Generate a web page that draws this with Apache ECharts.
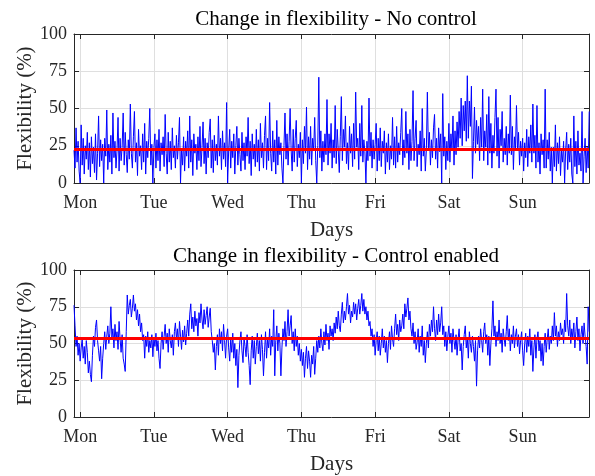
<!DOCTYPE html>
<html>
<head>
<meta charset="utf-8">
<script src="https://cdn.jsdelivr.net/npm/echarts@6/dist/echarts.min.js"></script>
<style>html,body{margin:0;padding:0;background:#fff}#c{width:595px;height:476px}</style>
</head>
<body>
<div id="c"></div>
<script>
// ---- data ----
const dayLabels = ['Mon','Tue','Wed','Thu','Fri','Sat','Sun'];
const dayTicks = [0,1,2,3,4,5,6];
const yTicks = [0,25,50,75,100];
const startDay = -1/12;      // first sample, in days relative to Monday 00:00
const stepDay = 1/72;        // 20-minute samples
const titleTop = 'Change in flexibility - No control';
const titleBottom = 'Change in flexibility - Control enabled';
const meanNoControl = 22.6;
const meanControl = 53.6;

const noControl = [
22,10,37,14,28,8,0,39,12,30,6,25,16,34,9,27,4,31,13,24,7,33,2,20,45,11,29,15,26,0,30,18,49,9,26,14,
32,6,47,17,28,10,22,44,8,30,15,24,47,12,34,19,7,29,16,53,20,10,31,48,14,27,5,36,18,25,9,33,14,40,6,28,
17,30,50,12,26,0,24,33,10,29,15,36,8,27,19,31,11,46,20,6,34,14,28,9,37,17,25,10,32,16,27,44,0,23,12,31,
8,28,18,35,10,45,14,29,5,33,20,26,9,31,15,38,11,24,41,13,30,6,27,17,34,43,10,29,7,32,15,26,12,45,18,30,
9,35,16,27,11,54,0,22,36,10,28,17,33,6,25,38,12,30,19,8,34,15,27,9,31,18,44,13,28,5,33,16,26,11,36,14,
29,8,40,17,27,10,32,45,9,30,15,54,20,8,35,14,29,6,42,12,31,19,27,10,0,25,47,16,33,12,28,50,22,8,36,14,
30,42,11,26,17,34,0,29,13,38,20,51,9,31,16,38,12,30,22,44,15,0,25,71,17,35,8,28,14,33,19,56,12,33,20,40,
10,29,17,52,13,36,22,7,31,58,15,36,24,45,13,27,9,38,20,33,11,40,16,61,24,30,9,40,18,52,14,29,21,0,28,15,
57,18,34,10,29,16,26,40,8,30,15,37,11,28,20,35,6,27,14,33,9,25,16,44,12,31,10,38,14,27,19,34,50,12,29,17,
48,20,33,9,36,15,28,62,15,30,42,11,26,19,35,8,50,18,30,8,22,61,22,34,12,29,17,37,46,16,30,10,37,21,33,0,
60,18,31,9,28,15,40,14,33,22,45,12,35,19,41,24,48,30,57,25,52,35,55,28,72,30,55,38,65,3,28,51,20,42,26,38,
15,44,24,63,15,35,24,46,12,58,20,40,10,32,20,44,63,18,44,10,36,25,48,14,30,19,38,12,33,20,59,19,38,9,31,22,
52,22,34,12,28,18,30,8,27,17,36,11,31,20,39,14,53,20,32,10,52,14,27,6,33,19,29,10,63,10,29,16,34,8,24,0,
24,11,39,8,27,13,31,5,22,14,28,0,22,34,9,26,14,30,6,0,45,11,28,6,35,12,20,8,48,0,18,30,7,24,10,48
];

const controlEnabled = [
76,62,48,55,42,50,38,47,53,40,48,36,52,44,30,38,29,24,42,55,48,61,66,52,45,38,48,26,40,50,58,46,55,62,50,57,
75,54,60,47,63,52,58,46,65,53,44,56,40,36,31,58,83,70,76,80,68,74,83,72,77,66,73,62,70,58,64,52,56,40,55,48,
58,44,52,47,56,41,54,48,57,45,52,40,33,50,58,46,55,63,50,57,44,60,52,47,56,42,58,64,53,60,48,65,55,46,59,51,
62,49,57,66,55,70,77,60,68,58,72,62,67,55,71,64,77,66,60,73,63,69,75,61,68,74,58,52,44,50,32,48,56,42,60,50,
58,45,63,52,40,55,60,47,38,53,44,57,40,50,35,46,20,42,52,58,45,37,54,48,41,56,44,35,22,45,55,40,52,36,48,57,
43,52,38,56,46,28,44,58,40,53,47,60,42,55,48,73,28,52,62,45,57,50,28,47,60,52,65,48,58,73,55,62,69,50,58,45,
60,48,55,42,50,38,46,35,44,27,40,48,33,45,38,27,42,36,48,29,40,52,44,55,47,60,50,45,58,49,63,52,57,46,62,55,
60,52,64,57,68,60,72,62,58,70,78,64,72,66,75,84,70,76,64,72,68,78,70,77,66,74,80,70,76,84,72,80,70,75,66,72,
62,65,55,60,48,56,42,52,58,45,55,42,50,60,47,55,44,52,37,50,58,46,62,53,48,60,70,56,63,52,66,58,62,70,60,77,
68,74,81,66,72,60,55,64,50,58,46,51,60,44,55,48,62,42,52,37,50,58,47,63,55,66,58,75,60,52,66,56,70,58,64,75,
56,62,48,58,45,55,62,50,57,44,60,52,46,56,42,53,60,45,50,32,48,56,62,47,54,40,58,50,44,55,48,38,52,21,45,55,
47,60,52,44,58,64,50,56,42,55,35,50,60,79,55,62,48,58,52,66,50,57,44,60,53,48,58,69,52,60,45,56,50,62,47,55,
60,48,56,43,52,58,45,35,50,57,44,55,48,60,42,52,31,47,56,40,53,58,45,52,38,50,35,48,57,44,53,60,46,55,50,62,
52,71,55,62,48,58,52,64,56,60,50,66,58,84,62,55,66,50,60,54,64,47,58,68,52,60,45,56,62,50,64,55,48,36,75,58
];

// ---- chart ----
const toPairs = arr => arr.map((v, k) => [startDay + k * stepDay, v]);
const xMin = startDay, xMax = 6.9;
const FONT = 'Liberation Serif';
const TXT = '#262626';
const grids = [
  {left: 74, top: 34, width: 515, height: 149},
  {left: 74, top: 270, width: 515, height: 148}
];

function xAxes(gi) {
  return [
    {
      type: 'value', gridIndex: gi, min: xMin, max: xMax, position: 'bottom',
      name: 'Days', nameLocation: 'middle', nameGap: 37,
      nameTextStyle: {fontFamily: FONT, fontSize: 21, color: TXT},
      axisLine: {show: true, onZero: false, lineStyle: {color: TXT, width: 1}},
      axisTick: {show: true, inside: true, length: 5, customValues: dayTicks, lineStyle: {color: TXT}},
      axisLabel: {show: true, customValues: dayTicks, margin: 11, fontFamily: FONT, fontSize: 18, color: TXT,
        formatter: v => dayLabels[Math.round(v)] || ''},
      splitLine: {show: true, lineStyle: {color: '#dfdfdf', width: 1}}
    },
    {
      type: 'value', gridIndex: gi, min: xMin, max: xMax, position: 'top',
      axisLine: {show: true, onZero: false, lineStyle: {color: TXT, width: 1}},
      axisTick: {show: true, inside: true, length: 5, customValues: dayTicks, lineStyle: {color: TXT}},
      axisLabel: {show: false},
      splitLine: {show: false}
    }
  ];
}
function yAxes(gi) {
  return [
    {
      type: 'value', gridIndex: gi, min: 0, max: 100, interval: 25, position: 'left',
      name: 'Flexibility (%)', nameLocation: 'middle', nameGap: 38, nameMoveOverlap: false,
      nameTextStyle: {fontFamily: FONT, fontSize: 21, color: TXT},
      axisLine: {show: true, onZero: false, lineStyle: {color: TXT, width: 1}},
      axisTick: {show: true, inside: true, length: 5, lineStyle: {color: TXT}},
      axisLabel: {show: true, margin: 7, fontFamily: FONT, fontSize: 18, color: TXT},
      splitLine: {show: true, lineStyle: {color: '#dfdfdf', width: 1}}
    },
    {
      type: 'value', gridIndex: gi, min: 0, max: 100, interval: 25, position: 'right',
      axisLine: {show: true, onZero: false, lineStyle: {color: TXT, width: 1}},
      axisTick: {show: true, inside: true, length: 5, lineStyle: {color: TXT}},
      axisLabel: {show: false},
      splitLine: {show: false}
    }
  ];
}

function makeSeries(gi, data, mean) {
  return {
    type: 'line', xAxisIndex: gi * 2, yAxisIndex: gi * 2,
    data: toPairs(data), showSymbol: false, symbol: 'none', animation: false,
    lineStyle: {color: '#0000ff', width: 1},
    markLine: {
      silent: true, symbol: 'none', animation: false, label: {show: false},
      lineStyle: {color: '#ff0000', width: 3, type: 'solid'},
      data: [{yAxis: mean}]
    }
  };
}

const chart = echarts.init(document.getElementById('c'), null, {renderer: 'canvas'});
chart.setOption({
  animation: false,
  backgroundColor: '#ffffff',
  title: [
    {text: titleTop, left: 331, top: 4, textAlign: 'center',
     textStyle: {fontFamily: FONT, fontSize: 21, fontWeight: 'normal', color: '#000'}},
    {text: titleBottom, left: 331, top: 241, textAlign: 'center',
     textStyle: {fontFamily: FONT, fontSize: 21, fontWeight: 'normal', color: '#000'}}
  ],
  grid: grids,
  xAxis: [...xAxes(0), ...xAxes(1)],
  yAxis: [...yAxes(0), ...yAxes(1)],
  series: [makeSeries(0, noControl, meanNoControl), makeSeries(1, controlEnabled, meanControl)]
});
</script>
</body>
</html>
